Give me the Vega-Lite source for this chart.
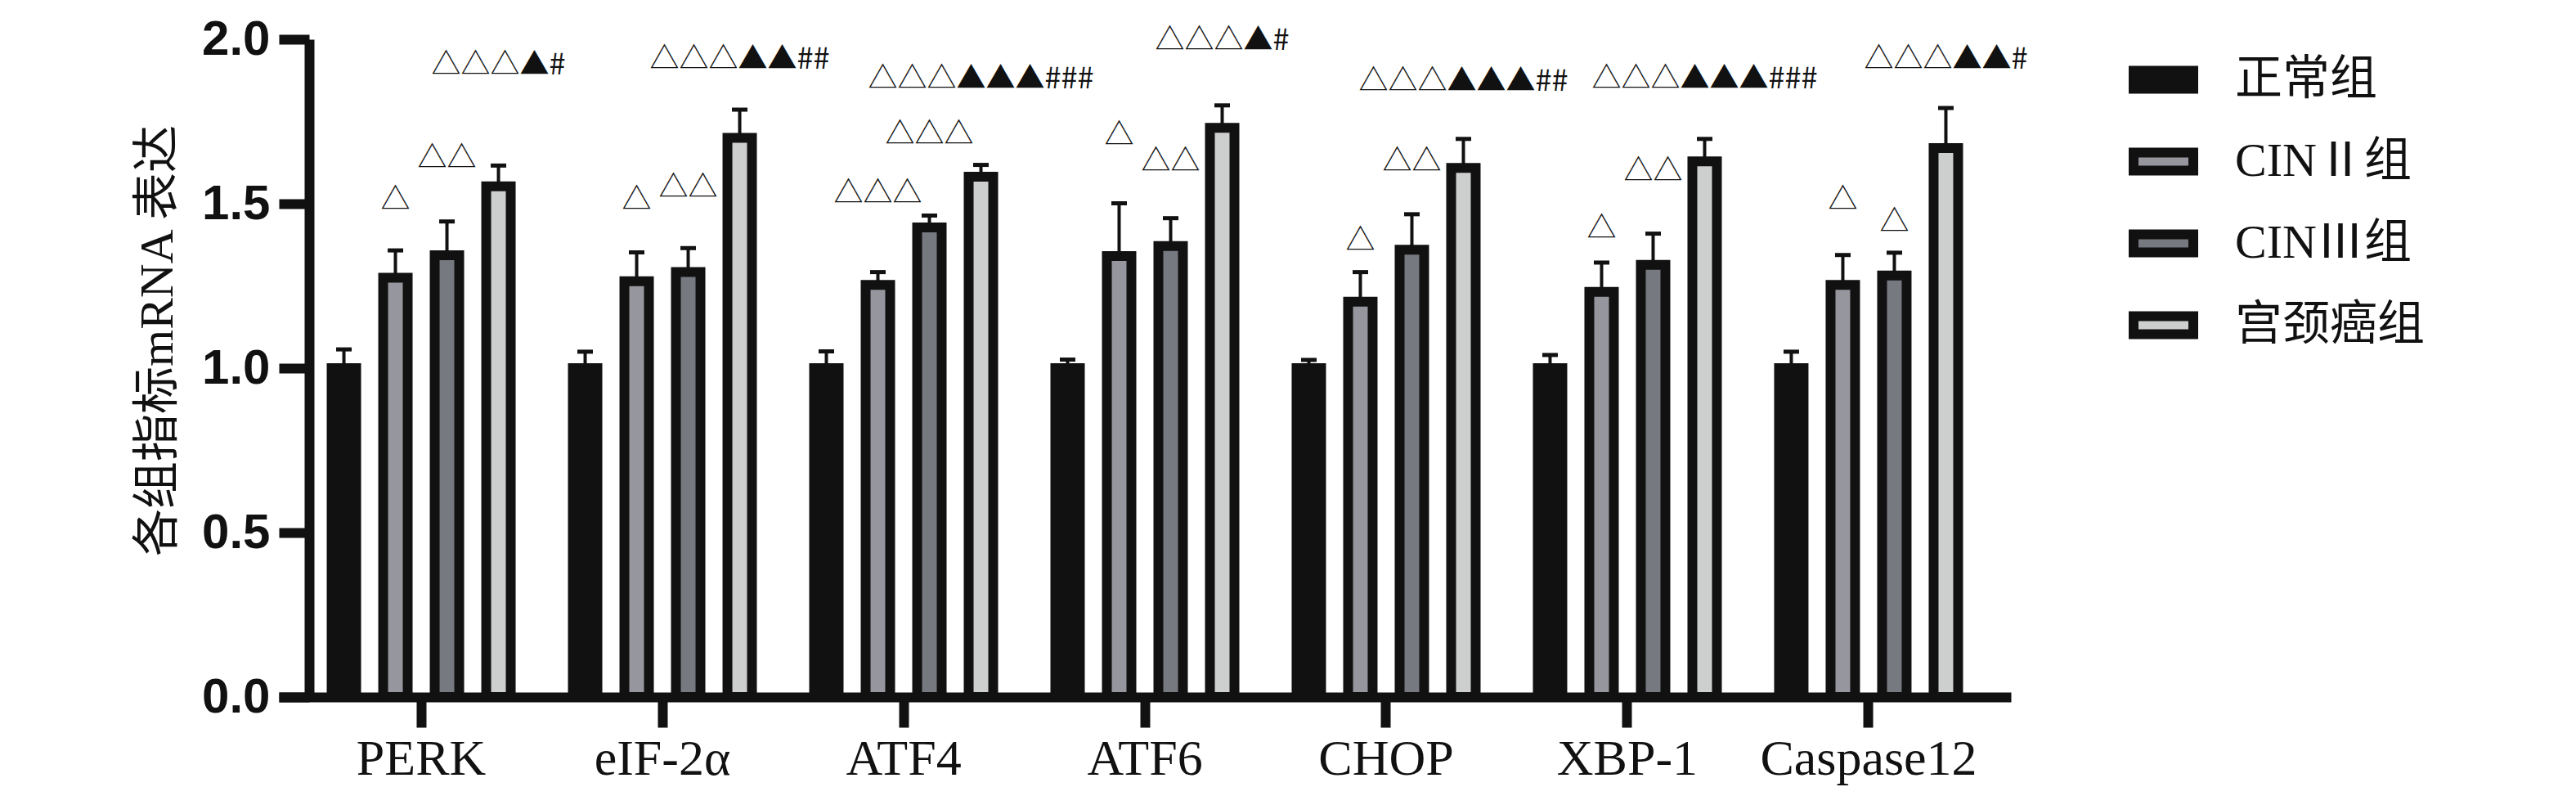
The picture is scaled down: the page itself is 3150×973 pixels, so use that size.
{
  "$schema": "https://vega.github.io/schema/vega-lite/v6.json",
  "width": 2118,
  "height": 804,
  "autosize": {"type": "none"},
  "padding": {"left": 341, "top": 48, "right": 691, "bottom": 121},
  "background": "white",
  "data": {
    "values": [
      {"gene": "PERK", "group": "正常组", "mean": 1.0, "upper": 1.057, "sig": "", "sig_y": null},
      {"gene": "PERK", "group": "CINⅡ组", "mean": 1.275, "upper": 1.358, "sig": "△", "sig_y": 1.51},
      {"gene": "PERK", "group": "CINⅢ组", "mean": 1.343, "upper": 1.446, "sig": "△△", "sig_y": 1.637},
      {"gene": "PERK", "group": "宫颈癌组", "mean": 1.553, "upper": 1.616, "sig": "△△△▲#", "sig_y": 1.92},
      {"gene": "eIF-2α", "group": "正常组", "mean": 1.0, "upper": 1.05, "sig": "", "sig_y": null},
      {"gene": "eIF-2α", "group": "CINⅡ组", "mean": 1.264, "upper": 1.352, "sig": "△", "sig_y": 1.51},
      {"gene": "eIF-2α", "group": "CINⅢ组", "mean": 1.292, "upper": 1.365, "sig": "△△", "sig_y": 1.547},
      {"gene": "eIF-2α", "group": "宫颈癌组", "mean": 1.7, "upper": 1.786, "sig": "△△△▲▲##", "sig_y": 1.938},
      {"gene": "ATF4", "group": "正常组", "mean": 1.0, "upper": 1.051, "sig": "", "sig_y": null},
      {"gene": "ATF4", "group": "CINⅡ组", "mean": 1.253, "upper": 1.292, "sig": "△△△", "sig_y": 1.53},
      {"gene": "ATF4", "group": "CINⅢ组", "mean": 1.428, "upper": 1.464, "sig": "△△△", "sig_y": 1.71},
      {"gene": "ATF4", "group": "宫颈癌组", "mean": 1.582, "upper": 1.618, "sig": "△△△▲▲▲###", "sig_y": 1.879},
      {"gene": "ATF6", "group": "正常组", "mean": 1.0, "upper": 1.026, "sig": "", "sig_y": null},
      {"gene": "ATF6", "group": "CINⅡ组", "mean": 1.341, "upper": 1.501, "sig": "△", "sig_y": 1.707},
      {"gene": "ATF6", "group": "CINⅢ组", "mean": 1.371, "upper": 1.456, "sig": "△△", "sig_y": 1.627},
      {"gene": "ATF6", "group": "宫颈癌组", "mean": 1.731, "upper": 1.799, "sig": "△△△▲#", "sig_y": 1.995},
      {"gene": "CHOP", "group": "正常组", "mean": 1.0, "upper": 1.025, "sig": "", "sig_y": null},
      {"gene": "CHOP", "group": "CINⅡ组", "mean": 1.202, "upper": 1.292, "sig": "△", "sig_y": 1.386},
      {"gene": "CHOP", "group": "CINⅢ组", "mean": 1.36, "upper": 1.468, "sig": "△△", "sig_y": 1.627},
      {"gene": "CHOP", "group": "宫颈癌组", "mean": 1.609, "upper": 1.697, "sig": "△△△▲▲▲##", "sig_y": 1.871},
      {"gene": "XBP-1", "group": "正常组", "mean": 1.0, "upper": 1.04, "sig": "", "sig_y": null},
      {"gene": "XBP-1", "group": "CINⅡ组", "mean": 1.232, "upper": 1.321, "sig": "△", "sig_y": 1.423},
      {"gene": "XBP-1", "group": "CINⅢ组", "mean": 1.314, "upper": 1.409, "sig": "△△", "sig_y": 1.597},
      {"gene": "XBP-1", "group": "宫颈癌组", "mean": 1.629, "upper": 1.697, "sig": "△△△▲▲▲###", "sig_y": 1.879},
      {"gene": "Caspase12", "group": "正常组", "mean": 1.0, "upper": 1.05, "sig": "", "sig_y": null},
      {"gene": "Caspase12", "group": "CINⅡ组", "mean": 1.253, "upper": 1.344, "sig": "△", "sig_y": 1.51},
      {"gene": "Caspase12", "group": "CINⅢ组", "mean": 1.282, "upper": 1.351, "sig": "△", "sig_y": 1.443},
      {"gene": "Caspase12", "group": "宫颈癌组", "mean": 1.669, "upper": 1.791, "sig": "△△△▲▲#", "sig_y": 1.938}
    ]
  },
  "encoding": {
    "x": {
      "field": "gene", "type": "nominal", "sort": null,
      "scale": {"paddingInner": 0, "paddingOuter": 0.09},
      "axis": {
        "title": null, "labelAngle": 0, "labelLimit": 800,
        "labelFont": "Liberation Serif", "labelFontSize": 62, "labelColor": "#111",
        "labelPadding": 8,
        "domainColor": "#111", "domainWidth": 12,
        "tickColor": "#111", "tickWidth": 12, "tickSize": 37,
        "grid": false
      }
    },
    "xOffset": {
      "field": "group", "type": "nominal",
      "scale": {"domain": ["正常组", "CINⅡ组", "CINⅢ组", "宫颈癌组"], "paddingInner": 0.524, "paddingOuter": 0.603}
    }
  },
  "layer": [
    {
      "mark": {"type": "bar", "stroke": "#111", "strokeWidth": 12, "strokeJoin": "miter"},
      "encoding": {
        "y": {
          "field": "mean", "type": "quantitative",
          "scale": {"domain": [0, 2], "nice": false},
          "axis": {
            "title": "各组指标mRNA  表达",
            "titleFont": "'Liberation Serif', 'Noto Sans CJK SC'", "titleFontSize": 58, "titleFontWeight": "normal",
            "titleColor": "#111", "titlePadding": 24, "titleY": 368,
            "values": [0, 0.5, 1, 1.5, 2], "format": ".1f",
            "labelFont": "Liberation Sans", "labelFontWeight": "bold", "labelFontSize": 60, "labelColor": "#111",
            "labelPadding": 11,
            "offset": -37,
            "domainColor": "#111", "domainWidth": 12,
            "tickColor": "#111", "tickWidth": 12, "tickSize": 37,
            "grid": false
          }
        },
        "fill": {
          "field": "group", "type": "nominal",
          "scale": {
            "domain": ["正常组", "CINⅡ组", "CINⅢ组", "宫颈癌组"],
            "range": ["#111111", "#96969e", "#777980", "#cdcfce"]
          },
          "legend": {
            "title": null, "orient": "none", "legendX": 2262, "legendY": 7,
            "symbolType": "M-1,-0.3H1V0.3H-1Z", "symbolSize": 5329,
            "symbolStrokeWidth": 12, "symbolStrokeColor": "#111", "symbolOpacity": 1,
            "labelFont": "'Liberation Serif', 'Noto Sans CJK SC'", "labelFontSize": 58, "labelColor": "#111",
            "labelOffset": 45, "rowPadding": 22, "labelLimit": 600
          }
        }
      }
    },
    {
      "mark": {"type": "rule", "strokeWidth": 4, "color": "#111"},
      "encoding": {
        "y": {"field": "mean", "type": "quantitative"},
        "y2": {"field": "upper"}
      }
    },
    {
      "mark": {"type": "tick", "orient": "horizontal", "size": 19, "thickness": 5, "color": "#111", "opacity": 1},
      "encoding": {
        "y": {"field": "upper", "type": "quantitative"}
      }
    },
    {
      "transform": [{"filter": "datum.sig != ''"}],
      "mark": {"type": "text", "font": "Noto Sans CJK SC", "fontSize": 36, "color": "#111", "baseline": "middle", "align": "center"},
      "encoding": {
        "y": {"field": "sig_y", "type": "quantitative"},
        "text": {"field": "sig"}
      }
    }
  ],
  "config": {"view": {"stroke": null}}
}
